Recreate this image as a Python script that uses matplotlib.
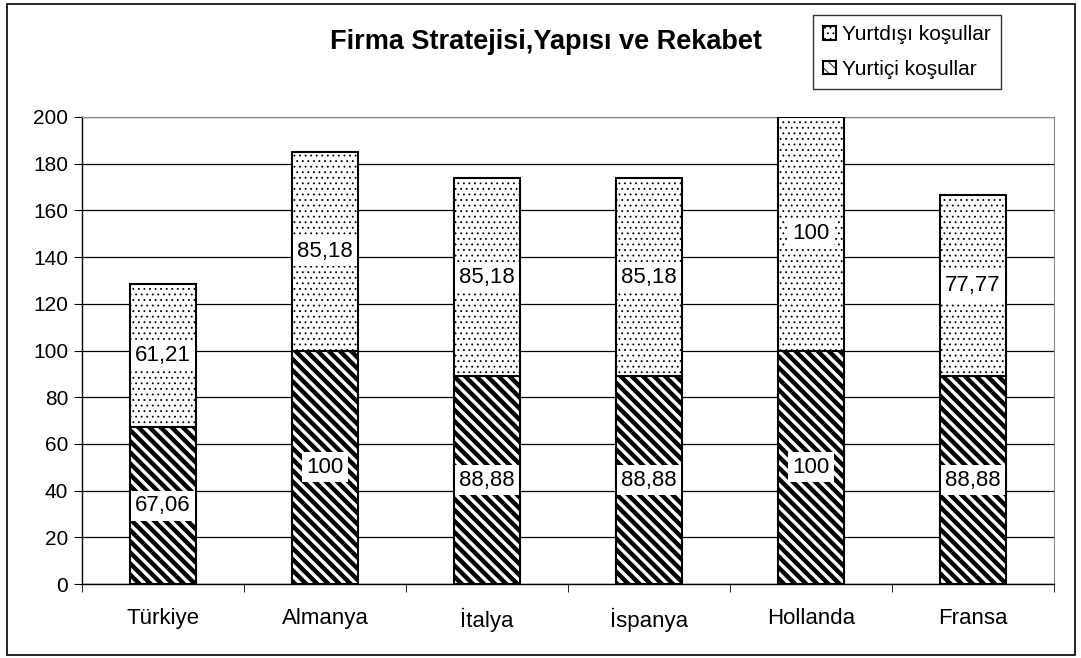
import matplotlib
matplotlib.use("Agg")
import matplotlib.pyplot as plt
import numpy as np
from matplotlib.patches import Rectangle

plt.rcParams['font.family'] = ['Liberation Sans', 'DejaVu Sans']

categories = ["Türkiye", "Almanya", "İtalya", "İspanya", "Hollanda", "Fransa"]
yurtici = [67.06, 100, 88.88, 88.88, 100, 88.88]
yurtdisi = [61.21, 85.18, 85.18, 85.18, 100, 77.77]
yurtici_labels = ["67,06", "100", "88,88", "88,88", "100", "88,88"]
yurtdisi_labels = ["61,21", "85,18", "85,18", "85,18", "100", "77,77"]

fig = plt.figure(figsize=(10.81, 6.58), dpi=100)
ax = fig.add_axes([82/1081, 1-584/658, (1054-82)/1081, (584-117)/658])

x = np.arange(len(categories))
w = 0.41
plt.rcParams['hatch.linewidth'] = 3.2
plt.rcParams['hatch.color'] = 'black'
b1 = ax.bar(x, yurtici, w, color='white', edgecolor='black', hatch='\\\\\\', linewidth=1.5, zorder=3)
plt.rcParams['hatch.linewidth'] = 0.6
plt.rcParams['hatch.color'] = '#444444'
b2 = ax.bar(x, yurtdisi, w, bottom=yurtici, color='white', edgecolor='black', hatch='...', linewidth=1.5, zorder=3)

for i in range(len(categories)):
    ax.text(x[i], yurtici[i] / 2, yurtici_labels[i], ha='center', va='center', fontsize=16,
            bbox=dict(facecolor='white', edgecolor='none', boxstyle='square,pad=0.2'), zorder=5)
    ax.text(x[i], yurtici[i] + yurtdisi[i] / 2, yurtdisi_labels[i], ha='center', va='center', fontsize=16,
            bbox=dict(facecolor='white', edgecolor='none', boxstyle='square,pad=0.2'), zorder=5)

ax.set_xlim(-0.5, len(categories) - 0.5)
ax.set_ylim(0, 200)
ax.set_yticks(np.arange(0, 201, 20))
ax.set_xticks(x)
ax.set_xticklabels(categories)
ax.set_xticks(np.arange(-0.5, len(categories)), minor=True)
ax.tick_params(axis='x', which='major', length=0, pad=17, labelsize=16)
ax.tick_params(axis='x', which='minor', length=6, color='black')
ax.tick_params(axis='y', length=6, labelsize=15, pad=4)
ax.yaxis.grid(True, color='black', linewidth=0.9, zorder=0)
ax.set_axisbelow(True)
for s in ['top', 'right']:
    ax.spines[s].set_color('#888888')
ax.spines['left'].set_linewidth(1.0)
ax.spines['bottom'].set_linewidth(1.0)

fig.text(546/1081, 1-42/658, "Firma Stratejisi,Yapısı ve Rekabet", ha='center', va='center',
         fontsize=19.5, fontweight='bold')

leg = fig.legend([b2[0], b1[0]], ["Yurtdışı koşullar", "Yurtiçi koşullar"],
                 loc='upper left', bbox_to_anchor=(813/1081, 1-15/658), fontsize=15,
                 frameon=True, fancybox=False, edgecolor='black', handlelength=0.6, handleheight=0.6,
                 handletextpad=0.3, borderpad=0.5, labelspacing=0.75, borderaxespad=0)
leg.get_frame().set_linewidth(1.0)

fig.patches.append(Rectangle((7/1081, 3/658), 1068/1081, 651/658, transform=fig.transFigure,
                             fill=False, edgecolor='black', linewidth=1.2))

fig.savefig("out.png", dpi=100)
